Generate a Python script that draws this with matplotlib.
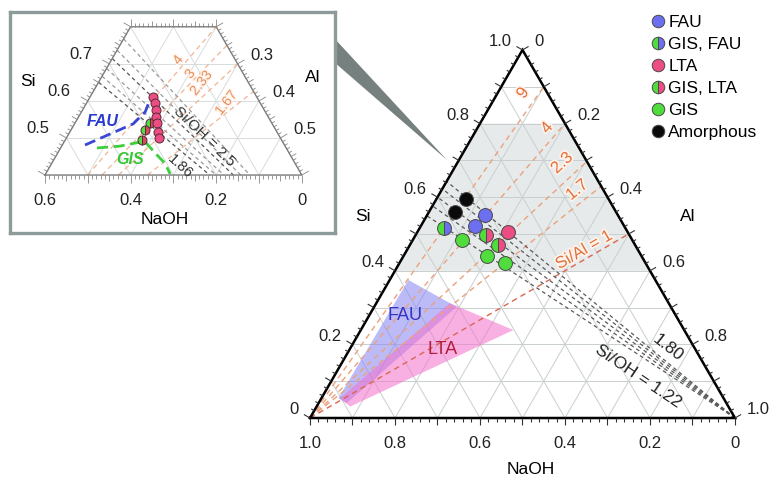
import numpy as np
import matplotlib.pyplot as plt
import matplotlib.patheffects as pe
from matplotlib.collections import LineCollection
from matplotlib.patches import Polygon

plt.rcParams['font.family'] = ['Liberation Sans', 'DejaVu Sans']

# ── data: mole fractions (Si, Al); NaOH = 1 - Si - Al ───────────────────────
FAU_SI, FAU_AL = [0.552, 0.523], [0.136, 0.126]
GIS_FAU_SI, GIS_FAU_AL = [0.515], [0.057]
LTA_SI, LTA_AL = [0.505], [0.214]
GIS_LTA_SI, GIS_LTA_AL = [0.497, 0.470], [0.165, 0.208]
GIS_SI, GIS_AL = [0.484, 0.440, 0.420], [0.115, 0.196, 0.249]
AMOR_SI, AMOR_AL = [0.595, 0.561], [0.069, 0.061]

SIAL_RATIOS = [9, 4, 2.3, 1.7, 1]
SIAL_LABELS = ['9', '4', '2.3', '1.7', 'Si/Al = 1']
SIOH_RATIOS = [1.22, 1.36, 1.50, 1.65, 1.80]

BAND_SI = [0.4, 0.8]

FAU_REG_SI, FAU_REG_AL = [0.054, 0.375, 0.302, 0.040], [0.040, 0.044, 0.194, 0.066]
LTA_REG_SI, LTA_REG_AL = [0.054, 0.312, 0.239, 0.031], [0.044, 0.173, 0.359, 0.079]

# inset (zoom of Si 0.4-0.8 band, other synthesis series)
IN_LTA_SI = [0.611, 0.593, 0.575, 0.557, 0.540, 0.517, 0.499]
IN_LTA_AL = [0.147, 0.160, 0.171, 0.182, 0.192, 0.206, 0.217]
IN_MIX_SI, IN_MIX_AL = [0.540, 0.521, 0.494], [0.175, 0.174, 0.179]
IN_FAU_SI = [0.481, 0.511, 0.538, 0.570, 0.602]
IN_FAU_AL = [0.053, 0.097, 0.137, 0.149, 0.144]
IN_GIS1_SI, IN_GIS1_AL = [0.473, 0.478, 0.489], [0.085, 0.136, 0.178]
IN_GIS2_SI = [0.489, 0.459, 0.432, 0.403]
IN_GIS2_AL = [0.190, 0.228, 0.264, 0.291]
IN_SIAL = [4, 3, 2.33, 1.67]
IN_SIOH = [3.3, 2.8, 2.5, 2.2, 2.0, 1.86]

BLUE, GREEN, PINK, EDGE = '#6b6ff0', '#4fdc3c', '#ec4d83', '#4a4a4a'
ORANGE_LN, ORANGE_TX = '#eba27c', '#e2703a'
GRID = '#c9cfcf'
FS = 12

S3 = np.sqrt(3) / 2


def xy(si, al):
    si = np.asarray(si, float)
    al = np.asarray(al, float)
    return al + si / 2, si * S3


W, H = 774, 479
fig = plt.figure(figsize=(W / 100, H / 100), dpi=100)

# ── main ternary: 425 px per unit, NaOH corner at pixel (310, 418) ──────────
SC, OX, OY = 425.0, 310.0, 418.0
ax = fig.add_axes([0, 0, 1, 1])
ax.set_xlim(-OX / SC, (W - OX) / SC)
ax.set_ylim(-(H - OY) / SC, OY / SC)
ax.axis('off')


def to_px(si, al):
    x, y = xy(si, al)
    return OX + x * SC, OY - y * SC


def px2d(px, py):
    return (px - OX) / SC, (OY - py) / SC


def ftext(px, py, s, **kw):
    return fig.text(px / W, 1 - py / H, s, **kw)


def draw_ticks(a, pos, normal, vals, lens, color, lw):
    segs = []
    for v, L in zip(vals, lens):
        x, y = pos(v)
        segs.append([(x, y), (x + normal[0] * L, y + normal[1] * L)])
    a.add_collection(LineCollection(segs, colors=color, linewidths=lw, zorder=6))


# shaded Si band
lo, hi = BAND_SI
ax.fill(*xy([lo, lo, hi, hi], [0, 1 - lo, 1 - hi, 0]), color='#e6eaea', lw=0, zorder=1)

# grid
for v in np.arange(0.1, 0.95, 0.1):
    ax.plot(*xy([v, v], [0, 1 - v]), color=GRID, lw=0.7, zorder=2)
    ax.plot(*xy([0, 1 - v], [v, v]), color=GRID, lw=0.7, zorder=2)
    ax.plot(*xy([0, 1 - v], [1 - v, 0]), color=GRID, lw=0.7, zorder=2)

# crystallisation fields
ax.fill(*xy(FAU_REG_SI, FAU_REG_AL), color='#8584f2', alpha=0.55, lw=0, zorder=3)
ax.fill(*xy(LTA_REG_SI, LTA_REG_AL), color='#f470cc', alpha=0.55, lw=0, zorder=3)
ftext(405, 316, 'FAU', color='#3434c4', fontsize=13, ha='center', va='center')
ftext(443, 349, 'LTA', color='#b01e3c', fontsize=13, ha='center', va='center')

# Si/Al lines from NaOH corner
for r in SIAL_RATIOS:
    s = r / (1 + r)
    c = '#d9674f' if r == 1 else ORANGE_LN
    ax.plot(*xy([0, s], [0, 1 - s]), color=c, lw=1.0, ls=(0, (4, 3)), zorder=4)

# Si/OH lines from Al corner
for r in SIOH_RATIOS:
    s = r / (1 + r)
    ax.plot(*xy([0, s], [1, 0]), color='#5a5a5a', lw=0.9, ls=(0, (3, 2.5)), zorder=4)

halo = [pe.withStroke(linewidth=2.5, foreground='#fff3ec')]
for lab, (px, py), rot in zip(SIAL_LABELS,
                              [(523, 93), (547, 128), (562, 163), (577, 190), (584, 250)],
                              [55, 49, 43, 39, 30]):
    ftext(px, py, lab, color=ORANGE_TX, fontsize=12, rotation=rot,
          ha='center', va='center', rotation_mode='anchor', path_effects=halo)
ftext(668, 348, '1.80', color='#222', fontsize=12.5, rotation=-38,
      ha='center', va='center', rotation_mode='anchor')
ftext(638, 376, 'Si/OH = 1.22', color='#222', fontsize=12.5, rotation=-34,
      ha='center', va='center', rotation_mode='anchor')

# triangle frame + ticks
ax.plot(*xy([0, 0, 1, 0], [0, 1, 0, 0]), color='k', lw=1.8, zorder=6,
        solid_joinstyle='miter')
tv = np.round(np.arange(0, 1.0001, 0.02), 3)
tl = [7 / SC if abs(v * 10 - round(v * 10)) < 1e-6 else 3.5 / SC for v in tv]
draw_ticks(ax, lambda v: xy(0, 1 - v), (0, -1), tv, tl, '#333', 0.8)
draw_ticks(ax, lambda v: xy(v, 0), (-S3, 0.5), tv, tl, '#333', 0.8)
draw_ticks(ax, lambda v: xy(1 - v, v), (S3, 0.5), tv, tl, '#333', 0.8)

for v in np.arange(0, 1.01, 0.2):
    lab = '0' if v < 1e-6 else f'{v:.1f}'
    px, py = to_px(v, 0)
    ftext(px - 11, py - 8, lab, fontsize=FS, ha='right', va='center', color='#222')
    px, py = to_px(1 - v, v)
    ftext(px + 12, py - 8, lab, fontsize=FS, ha='left', va='center', color='#222')
    px, py = to_px(0, 1 - v)
    ftext(px, py + 25, lab, fontsize=FS, ha='center', va='center', color='#222')
ftext(363, 217, 'Si', fontsize=12.5, ha='center', va='center')
ftext(688, 217, 'Al', fontsize=12.5, ha='center', va='center')
ftext(531, 469, 'NaOH', fontsize=12.5, ha='center', va='center')

# data points
kw = dict(ls='none', marker='o', ms=10, mec=EDGE, mew=0.7, zorder=8)
h_fau, = ax.plot(*xy(FAU_SI, FAU_AL), mfc=BLUE, label='FAU', **kw)
h_gf, = ax.plot(*xy(GIS_FAU_SI, GIS_FAU_AL), mfc=GREEN, fillstyle='left',
                markerfacecoloralt=BLUE, label='GIS, FAU', **kw)
h_lta, = ax.plot(*xy(LTA_SI, LTA_AL), mfc=PINK, label='LTA', **kw)
h_gl, = ax.plot(*xy(GIS_LTA_SI, GIS_LTA_AL), mfc=GREEN, fillstyle='left',
                markerfacecoloralt=PINK, label='GIS, LTA', **kw)
h_gis, = ax.plot(*xy(GIS_SI, GIS_AL), mfc=GREEN, label='GIS', **kw)
h_am, = ax.plot(*xy(AMOR_SI, AMOR_AL), mfc='#0a0a0a', label='Amorphous', **kw)

fig.legend(handles=[h_fau, h_gf, h_lta, h_gl, h_gis, h_am], loc='upper left',
           bbox_to_anchor=(651 / W, 1 - 15 / H), frameon=False, fontsize=12.5,
           handlelength=0.8, handletextpad=0.2, labelspacing=0.39,
           borderpad=0, borderaxespad=0, markerscale=0.9, numpoints=1)

# callout wedge from inset to main diagram
ax.add_patch(Polygon([px2d(334, 38), px2d(334, 62), px2d(447, 160)],
                     closed=True, color='#75807f', lw=0, zorder=5))

# ── inset: same scale, Si 0.4-0.8 trapezoid ─────────────────────────────────
IS, IX, IY = 428.0, -40.6, 323.3
FL, FT, FR, FB = 10, 12, 335, 233
axi = fig.add_axes([FL / W, 1 - FB / H, (FR - FL) / W, (FB - FT) / H])
axi.set_xlim((FL - IX) / IS, (FR - IX) / IS)
axi.set_ylim((IY - FB) / IS, (IY - FT) / IS)
axi.set_xticks([])
axi.set_yticks([])
for sp in axi.spines.values():
    sp.set_color('#8e9b9b')
    sp.set_linewidth(2.4)


def to_ipx(si, al):
    x, y = xy(si, al)
    return IX + x * IS, IY - y * IS


for v in [0.5, 0.6, 0.7]:
    axi.plot(*xy([v, v], [0, 1 - v]), color='#d8dcdc', lw=0.7, zorder=1)
for v in np.arange(0.1, 0.55, 0.1):
    se = min(0.8, 1 - v)
    axi.plot(*xy([0.4, se], [v, v]), color='#d8dcdc', lw=0.7, zorder=1)
    axi.plot(*xy([0.4, se], [0.6 - v, 1 - v - se]), color='#d8dcdc', lw=0.7, zorder=1)

for r in IN_SIAL:
    s = r / (1 + r)
    axi.plot(*xy([0.4, s], [0.4 / r, 1 - s]), color='#f0b594', lw=0.9,
             ls=(0, (4, 3)), zorder=2)
for r in IN_SIOH:
    s = r / (1 + r)
    c = '#555' if r in (2.5, 1.86) else '#9a9a9a'
    axi.plot(*xy([s, 0.4], [0, 0.6 - 0.4 / r]), color=c, lw=0.9,
             ls=(0, (3, 2.5)), zorder=2)

axi.plot(*xy(IN_FAU_SI, IN_FAU_AL), color='#3a46d6', lw=2, ls=(0, (4, 2)), zorder=3)
axi.plot(*xy(IN_GIS1_SI, IN_GIS1_AL), color='#3ccf3c', lw=2, ls=(0, (4, 2)), zorder=3)
axi.plot(*xy(IN_GIS2_SI, IN_GIS2_AL), color='#3ccf3c', lw=2, ls=(0, (4, 2)), zorder=3)

ikw = dict(ls='none', marker='o', ms=6.5, mec='#5a2a3a', mew=0.7, zorder=5)
axi.plot(*xy(IN_MIX_SI, IN_MIX_AL), mfc=GREEN, fillstyle='left',
         markerfacecoloralt='#d84a5a', **ikw)
axi.plot(*xy(IN_LTA_SI, IN_LTA_AL), mfc=PINK, **ikw)

# trapezoid edges with dense ticks
axi.plot(*xy([0.4, 0.4, 0.8, 0.8, 0.4], [0, 0.6, 0.2, 0, 0]), color='#7a7a7a',
         lw=1.0, zorder=4)
iv = np.round(np.arange(0, 0.60001, 0.01), 3)
il = []
for v in iv:
    if abs(v * 10 - round(v * 10)) < 1e-6:
        il.append(8 / IS)
    elif abs(v * 20 - round(v * 20)) < 1e-6:
        il.append(6 / IS)
    else:
        il.append(3.5 / IS)
il = np.array(il)
draw_ticks(axi, lambda v: xy(0.4, 0.6 - v), (0, -1), iv, il, '#888', 0.6)
m = iv <= 0.4 + 1e-9
draw_ticks(axi, lambda v: xy(0.4 + v, 0), (-S3, 0.5), iv[m], il[m], '#888', 0.6)
draw_ticks(axi, lambda v: xy(0.8 - v, 0.2 + v), (S3, 0.5), iv[m], il[m], '#888', 0.6)
m2 = iv <= 0.2 + 1e-9
draw_ticks(axi, lambda v: xy(0.8, v), (0, 1), iv[m2], il[m2], '#888', 0.6)

for v in [0.5, 0.6, 0.7]:
    px, py = to_ipx(v, 0)
    ftext(px - 17, py - 9, f'{v:.1f}', fontsize=FS, ha='right', va='center', color='#222')
for v in [0.3, 0.4, 0.5]:
    px, py = to_ipx(1 - v, v)
    ftext(px + 13, py - 8, f'{v:.1f}', fontsize=FS, ha='left', va='center', color='#222')
for v in [0.6, 0.4, 0.2, 0.0]:
    px, py = to_ipx(0.4, 0.6 - v)
    lab = '0' if v == 0 else f'{v:.1f}'
    ftext(px, py + 25, lab, fontsize=FS, ha='center', va='center', color='#222')
ftext(28, 82, 'Si', fontsize=12.5, ha='center', va='center')
ftext(313, 78, 'Al', fontsize=12.5, ha='center', va='center')
ftext(165, 219, 'NaOH', fontsize=12.5, ha='center', va='center')

ftext(103, 122, 'FAU', color='#2a3ad0', fontsize=11.5, weight='bold', style='italic',
      ha='center', va='center')
ftext(130, 160, 'GIS', color='#36c636', fontsize=11.5, weight='bold', style='italic',
      ha='center', va='center')
ihalo = [pe.withStroke(linewidth=2, foreground='#fff3ec')]
for lab, (px, py) in zip(['4', '3', '2.33', '1.67'],
                         [(178, 60), (190, 74), (201, 83), (226, 103)]):
    ftext(px, py, lab, color='#e8905a', fontsize=10, rotation=52, ha='center',
          va='center', rotation_mode='anchor', path_effects=ihalo)
ftext(204, 137, 'Si/OH = 2.5', color='#333', fontsize=11, rotation=-44,
      ha='center', va='center', rotation_mode='anchor')
ftext(180, 167, '1.86', color='#333', fontsize=10.5, rotation=-42,
      ha='center', va='center', rotation_mode='anchor')

fig.savefig('out.png', dpi=100)
